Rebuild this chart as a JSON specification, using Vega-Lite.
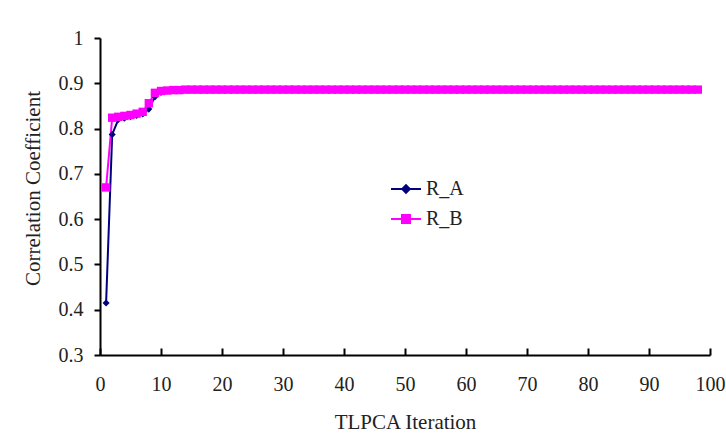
{
  "$schema": "https://vega.github.io/schema/vega-lite/v6.json",
  "width": 610,
  "height": 317,
  "autosize": {"type": "none"},
  "padding": {"left": 100, "top": 38, "right": 16, "bottom": 93},
  "background": "white",
  "config": {
    "view": {"stroke": null},
    "font": "Liberation Serif",
    "axis": {"labelFont": "Liberation Serif", "titleFont": "Liberation Serif", "labelFontSize": 20, "titleFontSize": 21, "titleFontWeight": "normal", "labelColor": "#222", "titleColor": "#222", "domainColor": "#000", "tickColor": "#000", "domainWidth": 2, "tickWidth": 2, "grid": false}
  },
  "data": {"values": [
    {"i":1,"R_A":0.415,"R_B":0.670},
    {"i":2,"R_A":0.787,"R_B":0.824},
    {"i":3,"R_A":0.820,"R_B":0.826},
    {"i":4,"R_A":0.823,"R_B":0.828},
    {"i":5,"R_A":0.826,"R_B":0.830},
    {"i":6,"R_A":0.829,"R_B":0.833},
    {"i":7,"R_A":0.832,"R_B":0.837},
    {"i":8,"R_A":0.843,"R_B":0.856},
    {"i":9,"R_A":0.870,"R_B":0.879},
    {"i":10,"R_A":0.880,"R_B":0.883},
    {"i":11,"R_A":0.883,"R_B":0.884},
    {"i":12,"R_A":0.884,"R_B":0.885},
    {"i":13,"R_A":0.885,"R_B":0.885},
    {"i":14,"R_A":0.885,"R_B":0.886},
    {"i":15,"R_A":0.885,"R_B":0.886},
    {"i":16,"R_A":0.885,"R_B":0.886},
    {"i":17,"R_A":0.885,"R_B":0.886},
    {"i":18,"R_A":0.885,"R_B":0.886},
    {"i":19,"R_A":0.885,"R_B":0.886},
    {"i":20,"R_A":0.885,"R_B":0.886},
    {"i":21,"R_A":0.886,"R_B":0.886},
    {"i":22,"R_A":0.886,"R_B":0.886},
    {"i":23,"R_A":0.886,"R_B":0.886},
    {"i":24,"R_A":0.886,"R_B":0.886},
    {"i":25,"R_A":0.886,"R_B":0.886},
    {"i":26,"R_A":0.886,"R_B":0.886},
    {"i":27,"R_A":0.886,"R_B":0.886},
    {"i":28,"R_A":0.886,"R_B":0.886},
    {"i":29,"R_A":0.886,"R_B":0.886},
    {"i":30,"R_A":0.886,"R_B":0.886},
    {"i":31,"R_A":0.886,"R_B":0.886},
    {"i":32,"R_A":0.886,"R_B":0.886},
    {"i":33,"R_A":0.886,"R_B":0.886},
    {"i":34,"R_A":0.886,"R_B":0.886},
    {"i":35,"R_A":0.886,"R_B":0.886},
    {"i":36,"R_A":0.886,"R_B":0.886},
    {"i":37,"R_A":0.886,"R_B":0.886},
    {"i":38,"R_A":0.886,"R_B":0.886},
    {"i":39,"R_A":0.886,"R_B":0.886},
    {"i":40,"R_A":0.886,"R_B":0.886},
    {"i":41,"R_A":0.886,"R_B":0.886},
    {"i":42,"R_A":0.886,"R_B":0.886},
    {"i":43,"R_A":0.886,"R_B":0.886},
    {"i":44,"R_A":0.886,"R_B":0.886},
    {"i":45,"R_A":0.886,"R_B":0.886},
    {"i":46,"R_A":0.886,"R_B":0.886},
    {"i":47,"R_A":0.886,"R_B":0.886},
    {"i":48,"R_A":0.886,"R_B":0.886},
    {"i":49,"R_A":0.886,"R_B":0.886},
    {"i":50,"R_A":0.886,"R_B":0.886},
    {"i":51,"R_A":0.886,"R_B":0.886},
    {"i":52,"R_A":0.886,"R_B":0.886},
    {"i":53,"R_A":0.886,"R_B":0.886},
    {"i":54,"R_A":0.886,"R_B":0.886},
    {"i":55,"R_A":0.886,"R_B":0.886},
    {"i":56,"R_A":0.886,"R_B":0.886},
    {"i":57,"R_A":0.886,"R_B":0.886},
    {"i":58,"R_A":0.886,"R_B":0.886},
    {"i":59,"R_A":0.886,"R_B":0.886},
    {"i":60,"R_A":0.886,"R_B":0.886},
    {"i":61,"R_A":0.886,"R_B":0.886},
    {"i":62,"R_A":0.886,"R_B":0.886},
    {"i":63,"R_A":0.886,"R_B":0.886},
    {"i":64,"R_A":0.886,"R_B":0.886},
    {"i":65,"R_A":0.886,"R_B":0.886},
    {"i":66,"R_A":0.886,"R_B":0.886},
    {"i":67,"R_A":0.886,"R_B":0.886},
    {"i":68,"R_A":0.886,"R_B":0.886},
    {"i":69,"R_A":0.886,"R_B":0.886},
    {"i":70,"R_A":0.886,"R_B":0.886},
    {"i":71,"R_A":0.886,"R_B":0.886},
    {"i":72,"R_A":0.886,"R_B":0.886},
    {"i":73,"R_A":0.886,"R_B":0.886},
    {"i":74,"R_A":0.886,"R_B":0.886},
    {"i":75,"R_A":0.886,"R_B":0.886},
    {"i":76,"R_A":0.886,"R_B":0.886},
    {"i":77,"R_A":0.886,"R_B":0.886},
    {"i":78,"R_A":0.886,"R_B":0.886},
    {"i":79,"R_A":0.886,"R_B":0.886},
    {"i":80,"R_A":0.886,"R_B":0.886},
    {"i":81,"R_A":0.886,"R_B":0.886},
    {"i":82,"R_A":0.886,"R_B":0.886},
    {"i":83,"R_A":0.886,"R_B":0.886},
    {"i":84,"R_A":0.886,"R_B":0.886},
    {"i":85,"R_A":0.886,"R_B":0.886},
    {"i":86,"R_A":0.886,"R_B":0.886},
    {"i":87,"R_A":0.886,"R_B":0.886},
    {"i":88,"R_A":0.886,"R_B":0.886},
    {"i":89,"R_A":0.886,"R_B":0.886},
    {"i":90,"R_A":0.886,"R_B":0.886},
    {"i":91,"R_A":0.886,"R_B":0.886},
    {"i":92,"R_A":0.886,"R_B":0.886},
    {"i":93,"R_A":0.886,"R_B":0.886},
    {"i":94,"R_A":0.886,"R_B":0.886},
    {"i":95,"R_A":0.886,"R_B":0.886},
    {"i":96,"R_A":0.886,"R_B":0.886},
    {"i":97,"R_A":0.886,"R_B":0.886},
    {"i":98,"R_A":0.886,"R_B":0.886}
  ]},
  "transform": [{"fold": ["R_A", "R_B"], "as": ["series", "value"]}],
  "encoding": {
    "x": {"field": "i", "type": "quantitative", "scale": {"domain": [0, 100], "nice": false}, "axis": {"values": [0,10,20,30,40,50,60,70,80,90,100], "title": "TLPCA Iteration", "tickSize": -7, "labelPadding": 26, "titlePadding": 17, "labelFlush": false}},
    "y": {"field": "value", "type": "quantitative", "scale": {"domain": [0.3, 1], "nice": false, "zero": false}, "axis": {"values": [0.3,0.4,0.5,0.6,0.7,0.8,0.9,1], "format": ".1~f", "title": "Correlation Coefficient", "tickSize": 6, "labelPadding": 11, "titlePadding": 15, "titleY": 150}},
    "color": {"field": "series", "type": "nominal", "scale": {"domain": ["R_A", "R_B"], "range": ["#000080", "#FF00FF"]},
      "legend": {"title": null, "orient": "none", "legendX": 290, "legendY": 135, "rowPadding": 4, "labelFont": "Liberation Serif", "labelFontSize": 20, "labelColor": "#222", "labelOffset": 4, "symbolSize": 900, "symbolStrokeWidth": 2,
        "encode": {"symbols": {"update": {
          "shape": {"signal": "datum.value === 'R_A' ? 'M-1,0L1,0M-0.25,0L0,-0.25L0.25,0L0,0.25Z' : 'M-1,0L1,0M-0.27,-0.27L0.27,-0.27L0.27,0.27L-0.27,0.27Z'"},
          "strokeWidth": {"value": 2},
          "size": {"value": 900},
          "opacity": {"value": 1},
          "fillOpacity": {"value": 1}
        }}}}
    }
  },
  "layer": [
    {"mark": {"type": "line", "strokeWidth": 2}},
    {"transform": [{"filter": "datum.series === 'R_A'"}],
     "mark": {"type": "point", "filled": true, "opacity": 1, "shape": "diamond", "size": 50}},
    {"transform": [{"filter": "datum.series === 'R_B'"}],
     "mark": {"type": "point", "filled": true, "opacity": 1, "shape": "square", "size": 70}}
  ]
}
